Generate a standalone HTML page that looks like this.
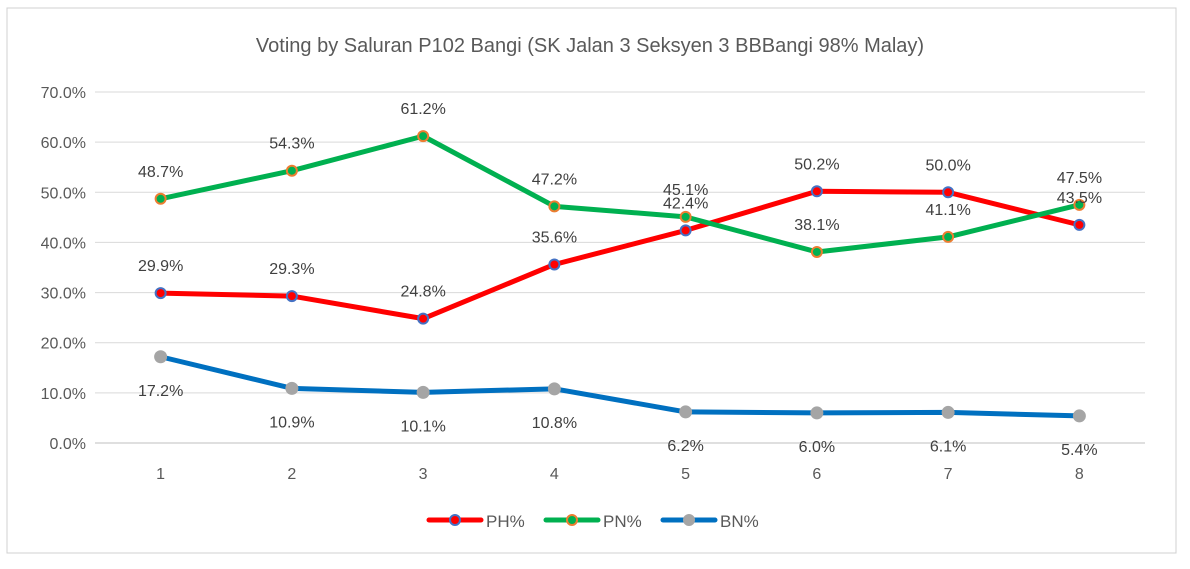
<!DOCTYPE html>
<html><head><meta charset="utf-8"><style>
body{margin:0;background:#fff;}
svg{display:block;font-family:"Liberation Sans",Calibri,sans-serif;}
</style></head><body>
<svg id="chart" width="1190" height="569">
<rect x="7" y="8" width="1169" height="545" fill="#fff" stroke="#d0d0d0"/>
<text x="590" y="52" text-anchor="middle" font-size="20" fill="#595959">Voting by Saluran P102 Bangi (SK Jalan 3 Seksyen 3 BBBangi 98% Malay)</text>
<g id="grid"></g><g id="series"></g><g id="labels"></g>
<g>
<g><line x1="429" y1="520" x2="481" y2="520" stroke="#ff0000" stroke-width="5" stroke-linecap="round"/><circle cx="455" cy="520" r="5" fill="#ff0000" stroke="#4472c4" stroke-width="2"/><text x="486" y="527" font-size="17" fill="#595959">PH%</text></g>
<g><line x1="546" y1="520" x2="598" y2="520" stroke="#00b050" stroke-width="5" stroke-linecap="round"/><circle cx="572" cy="520" r="5" fill="#00b050" stroke="#ed7d31" stroke-width="2"/><text x="603" y="527" font-size="17" fill="#595959">PN%</text></g>
<g><line x1="663" y1="520" x2="715" y2="520" stroke="#0070c0" stroke-width="5" stroke-linecap="round"/><circle cx="689" cy="520" r="6" fill="#a5a5a5"/><text x="720" y="527" font-size="17" fill="#595959">BN%</text></g>
</g>
</svg>
<script>
const categories=["1","2","3","4","5","6","7","8"];
const ph=[29.9,29.3,24.8,35.6,42.4,50.2,50.0,43.5];
const pn=[48.7,54.3,61.2,47.2,45.1,38.1,41.1,47.5];
const bn=[17.2,10.9,10.1,10.8,6.2,6.0,6.1,5.4];
const yTicks=[0,10,20,30,40,50,60,70];
const NS="http://www.w3.org/2000/svg";
const x0=95,x1=1145,y0=443,y70=92;
const xS=i=>x0+(i+0.5)*(x1-x0)/categories.length;
const yS=v=>y0-(v/70)*(y0-y70);
function mk(t,a,p){const e=document.createElementNS(NS,t);for(const k in a)e.setAttribute(k,a[k]);p.appendChild(e);return e;}
const grid=document.getElementById('grid');
yTicks.forEach(v=>{
 const l=mk('line',{x1:x0,x2:x1,y1:yS(v),y2:yS(v),stroke:v===0?'#bfbfbf':'#d9d9d9','stroke-width':1},grid);
 
 
 const t=mk('text',{x:86,y:yS(v)+6,'text-anchor':'end','font-size':16,fill:'#595959'},grid);
 t.textContent=v.toFixed(1)+'%';
 
 
});
categories.forEach((c,i)=>{
 const t=mk('text',{x:xS(i),y:479,'text-anchor':'middle','font-size':16,fill:'#595959'},grid);
 t.textContent=c;
 
 
});
const sg=document.getElementById('series'),lg=document.getElementById('labels');
function series(vals,name,col,fill,stroke,r,off){
 const p=mk('polyline',{points:vals.map((v,i)=>xS(i)+','+yS(v)).join(' '),fill:'none',stroke:col,'stroke-width':5,'stroke-linejoin':'round'},sg);
 
 
 vals.forEach((v,i)=>{
  const c=mk('circle',{cx:xS(i),cy:yS(v),r:r,fill:fill,stroke:stroke,'stroke-width':stroke==='none'?0:2},sg);
  
  
  const t=mk('text',{x:xS(i),y:yS(v)+off,'text-anchor':'middle','font-size':16,fill:'#404040'},lg);
  t.textContent=v.toFixed(1)+'%';
  
  
 });
}
series(bn,'bn','#0070c0','#a5a5a5','none',6.5,39);
series(ph,'ph','#ff0000','#ff0000','#4472c4',5,-22);
series(pn,'pn','#00b050','#00b050','#ed7d31',5,-22);
</script>
</body></html>
